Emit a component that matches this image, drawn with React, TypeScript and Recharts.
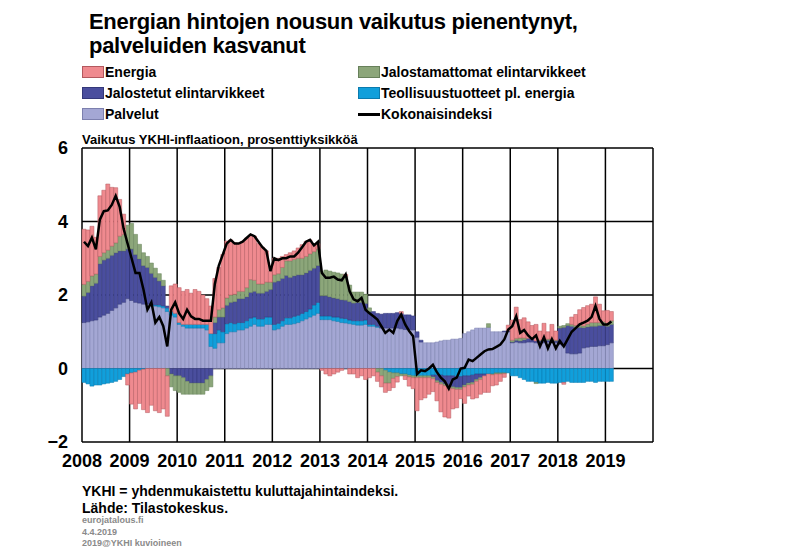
import React from 'react';
import {
  ComposedChart,
  Bar,
  Line,
  XAxis,
  YAxis,
  CartesianGrid,
} from 'recharts';

// monthly contributions, Jan 2008 - Feb 2019 (percentage points)
const palvelut = [
  1.25, 1.27, 1.3, 1.32, 1.4, 1.45, 1.5, 1.58, 1.65, 1.75, 1.8, 1.9,
  1.85, 1.8, 1.78, 1.75, 1.75, 1.72, 1.7, 1.68, 1.65, 1.55, 1.45, 1.4,
  1.2, 1.15, 1.1, 1.1, 1.1, 1.1, 1.1, 1.05, 0.6, 0.55, 0.7, 0.7,
  0.95, 1.0, 1.0, 1.05, 1.05, 1.1, 1.15, 1.2, 1.15, 1.15, 1.2, 1.2,
  1.05, 1.08, 1.15, 1.2, 1.2, 1.22, 1.25, 1.3, 1.35, 1.4, 1.45, 1.5,
  1.33, 1.33, 1.33, 1.3, 1.28, 1.25, 1.24, 1.22, 1.2, 1.18, 1.18, 1.2,
  1.15, 1.15, 1.12, 1.1, 1.1, 1.1, 1.1, 1.1, 1.08, 1.06, 1.06, 1.05,
  0.85, 0.72, 0.7, 0.7, 0.7, 0.72, 0.75, 0.77, 0.77, 0.8, 0.8, 0.82,
  0.95, 1.0, 1.05, 1.1, 1.1, 1.1, 1.12, 1.0, 1.0, 1.0, 1.0, 1.0,
  0.7, 0.72, 0.7, 0.7, 0.72, 0.72, 0.7, 0.7, 0.7, 0.72, 0.7, 0.7,
  0.65, 0.62, 0.42, 0.4, 0.4, 0.42, 0.56, 0.58, 0.6, 0.6, 0.62, 0.62,
  0.65, 0.7,
];

const teollisuus = [
  -0.38, -0.42, -0.48, -0.45, -0.45, -0.42, -0.4, -0.38, -0.35, -0.3, -0.22, -0.15,
  -0.12, -0.1, -0.05, -0.02, 0.0, 0.02, 0.03, 0.05, 0.05, 0.1, 0.1, 0.1,
  0.05, 0.05, 0.1, 0.1, 0.1, 0.1, 0.1, 0.15, 0.35, 0.4, 0.35, 0.3,
  0.27, 0.25, 0.22, 0.2, 0.2, 0.2, 0.22, 0.2, 0.2, 0.2, 0.2, 0.2,
  0.15, 0.15, 0.15, 0.18, 0.18, 0.2, 0.2, 0.2, 0.2, 0.22, 0.28, 0.3,
  0.1, 0.1, 0.1, 0.1, 0.12, 0.12, 0.12, 0.1, 0.1, 0.12, 0.12, 0.12,
  0.05, 0.05, 0.03, 0.0, -0.05, -0.1, -0.12, -0.12, -0.15, -0.15, -0.18, -0.2,
  -0.2, -0.2, -0.2, -0.2, -0.18, -0.18, -0.18, -0.2, -0.2, -0.2, -0.22, -0.22,
  -0.2, -0.2, -0.18, -0.15, -0.15, -0.15, -0.15, -0.15, -0.12, -0.12, -0.12, -0.12,
  -0.2, -0.2, -0.25, -0.3, -0.35, -0.35, -0.38, -0.4, -0.4, -0.38, -0.4, -0.4,
  -0.38, -0.38, -0.35, -0.38, -0.38, -0.38, -0.38, -0.35, -0.35, -0.38, -0.35, -0.35,
  -0.35, -0.35,
];

const jalostetut = [
  0.72, 0.8, 0.95, 1.0, 1.45, 1.5, 1.5, 1.5, 1.5, 1.45, 1.4, 1.35,
  1.4, 1.3, 1.2, 1.05, 1.0, 0.85, 0.75, 0.65, 0.55, 0.05, -0.15, -0.2,
  -0.2, -0.25, -0.35, -0.4, -0.4, -0.4, -0.4, -0.3, -0.2, 0.3, 0.35, 0.4,
  0.5, 0.55, 0.6, 0.65, 0.65, 0.65, 0.7, 0.7, 0.7, 0.7, 0.7, 0.75,
  1.15, 1.15, 1.15, 1.15, 1.1, 1.1, 1.1, 1.05, 1.05, 1.05, 1.0, 1.0,
  0.55, 0.55, 0.52, 0.52, 0.5, 0.5, 0.5, 0.5, 0.48, 0.5, 0.5, 0.45,
  0.35, 0.35, 0.35, 0.38, 0.4, 0.4, 0.4, 0.42, 0.42, 0.4, 0.4, 0.38,
  0.15, 0.05, 0.0, 0.0, -0.05, -0.15, -0.2, -0.22, -0.25, -0.3, -0.3, -0.3,
  -0.25, -0.2, -0.2, -0.15, -0.1, -0.05, 0.0, 0.0, 0.0, 0.0, 0.02, 0.03,
  0.02, 0.05, 0.05, 0.08, 0.1, 0.1, 0.05, 0.05, 0.05, 0.05, 0.05, 0.05,
  0.45, 0.5, 0.75, 0.75, 0.72, 0.7, 0.55, 0.55, 0.55, 0.55, 0.55, 0.55,
  0.5, 0.5,
];

const jalostamattomat = [
  0.32, 0.3, 0.27, 0.25, 0.2, 0.2, 0.22, 0.25, 0.27, 0.4, 0.45, 0.65,
  0.7, 0.55, 0.4, 0.35, 0.3, 0.28, 0.25, 0.2, 0.15, -0.2, -0.35, -0.4,
  -0.45, -0.45, -0.35, -0.3, -0.3, -0.3, -0.3, -0.3, -0.3, 0.15, 0.2, 0.25,
  0.2, 0.2, 0.2, 0.2, 0.2, 0.25, 0.35, 0.3, 0.25, 0.25, 0.25, 0.2,
  0.2, 0.2, 0.3, 0.4, 0.45, 0.45, 0.45, 0.45, 0.45, 0.45, 0.45, 0.45,
  0.65, 0.7, 0.7, 0.7, 0.7, 0.7, 0.65, 0.45, 0.3, 0.28, 0.28, 0.25,
  0.1, 0.0, -0.1, -0.2, -0.35, -0.3, -0.15, -0.1, -0.05, -0.05, -0.05, -0.05,
  -0.05, -0.05, -0.05, -0.05, -0.05, -0.05, -0.05, -0.05, -0.05, -0.05, -0.05, -0.05,
  -0.05, -0.05, -0.05, -0.05, -0.05, 0.0, 0.1, -0.02, -0.03, -0.03, -0.02, 0.0,
  0.05, 0.05, 0.08, 0.05, 0.0, 0.0, -0.03, 0.02, 0.03, 0.03, 0.05, 0.02,
  0.05, 0.05, 0.05, 0.05, 0.05, 0.08, 0.05, 0.08, 0.1, 0.1, 0.08, 0.1,
  0.08, 0.1,
];

const energia = [
  1.5, 1.4, 1.35, 1.0, 1.65, 1.7, 1.8, 1.6, 1.5, 1.0, 0.55, -0.3,
  -0.85, -1.0, -0.9, -1.1, -1.2, -1.0, -1.15, -1.2, -1.1, -1.1, 0.7, 0.8,
  0.95, 0.9, 0.95, 0.85, 0.95, 0.9, 0.8, 0.7, 0.75, 1.05, 1.15, 1.45,
  1.55, 1.5, 1.4, 1.3, 1.35, 1.35, 1.2, 1.2, 1.1, 1.0, 0.85, 0.3,
  0.45, 0.42, 0.3, 0.17, 0.22, 0.23, 0.28, 0.37, 0.41, 0.38, 0.19, 0.15,
  -0.05, -0.15, -0.2, -0.15, -0.1, -0.05, 0.05, -0.15, -0.15, -0.25, -0.2, -0.3,
  -0.25, -0.2, -0.25, -0.3, -0.25, -0.2, -0.25, -0.15, 0.05, -0.1, -0.25, -0.3,
  -0.9, -0.6, -0.55, -0.45, -0.35, -0.5, -0.75, -0.85, -0.85, -0.55, -0.5, -0.25,
  -0.45, -0.3, -0.4, -0.45, -0.4, -0.45, -0.5, -0.3, -0.3, -0.2, -0.1, 0.15,
  0.55, 0.85, 0.5, 0.55, 0.45, 0.35, 0.45, 0.25, 0.45, 0.2, 0.4, 0.25,
  0.0, -0.05, 0.0, 0.2, 0.3, 0.4, 0.5, 0.5, 0.5, 0.7, 0.5, 0.3,
  0.35, 0.25,
];

const kokonaisindeksi = [
  3.45, 3.33, 3.56, 3.24, 4.05, 4.28, 4.3, 4.45, 4.7, 4.4, 3.8, 3.4,
  3.0, 2.6, 2.6, 2.15, 1.6, 1.8, 1.25, 1.4, 1.15, 0.6, 1.6, 1.8,
  1.5, 1.35, 1.6, 1.42, 1.35, 1.35, 1.3, 1.3, 1.3, 2.3, 2.8, 3.1,
  3.4, 3.5, 3.4, 3.4, 3.45, 3.55, 3.65, 3.6, 3.45, 3.3, 3.2, 2.65,
  3.0, 2.95, 3.0, 3.0, 3.05, 3.05, 3.15, 3.3, 3.45, 3.5, 3.35, 3.45,
  2.6, 2.47, 2.47, 2.5, 2.42, 2.4, 2.56, 2.1, 1.88, 1.83, 1.92, 1.6,
  1.5, 1.42, 1.33, 1.15, 0.97, 1.06, 0.97, 1.29, 1.47, 1.2, 1.02, 0.88,
  -0.15, -0.05, -0.07, 0.0, 0.1, -0.1, -0.25, -0.35, -0.55, -0.3, -0.25, 0.0,
  0.02, 0.24, 0.2, 0.29, 0.38, 0.47, 0.52, 0.53, 0.59, 0.65, 0.79, 1.06,
  1.15, 1.42, 0.97, 1.05, 0.9, 0.8, 0.9, 0.6, 0.85, 0.55, 0.8, 0.55,
  0.75, 0.6, 0.8, 1.0, 1.1, 1.2, 1.25, 1.3, 1.4, 1.7, 1.35, 1.2,
  1.2, 1.28,
];

const years = ['2008', '2009', '2010', '2011', '2012', '2013', '2014', '2015', '2016', '2017', '2018', '2019'];
const yTicks = [-2, 0, 2, 4, 6];

const series = [
  { key: 'palvelut', name: 'Palvelut', fill: '#A4A7D4', stroke: '#7D80AE' },
  { key: 'teollisuus', name: 'Teollisuustuotteet pl. energia', fill: '#119FDB', stroke: '#0B7BAE' },
  { key: 'jalostetut', name: 'Jalostetut elintarvikkeet', fill: '#4A4E9E', stroke: '#34387A' },
  { key: 'jalostamattomat', name: 'Jalostamattomat elintarvikkeet', fill: '#8CA67A', stroke: '#67805A' },
  { key: 'energia', name: 'Energia', fill: '#EF8A8F', stroke: '#B3585E' },
];

const data = palvelut.map((_, i) => ({
  x: i + 0.5,
  palvelut: palvelut[i],
  teollisuus: teollisuus[i],
  jalostetut: jalostetut[i],
  jalostamattomat: jalostamattomat[i],
  energia: energia[i],
  kokonaisindeksi: kokonaisindeksi[i],
}));

const font = '"Liberation Sans", Arial, sans-serif';
const xTicks = Array.from({ length: 13 }, (_, i) => i * 12);

const Swatch = ({ fill, stroke }: { fill: string; stroke: string }) => (
  <span style={{ display: 'inline-block', width: 20, height: 10, background: fill, border: `1px solid ${stroke}` }} />
);

const legendCol1 = ['energia', 'jalostetut', 'palvelut'];
const legendCol2 = ['jalostamattomat', 'teollisuus'];

const LegendRow = ({ k, left, top }: { k: string; left: number; top: number }) => {
  const s = series.find((d) => d.key === k)!;
  return (
    <div style={{ position: 'absolute', left, top, height: 20, display: 'flex', alignItems: 'center', fontSize: 14, fontWeight: 'bold' }}>
      <Swatch fill={s.fill} stroke={s.stroke} />
      <span style={{ marginLeft: 1 }}>{s.name}</span>
    </div>
  );
};

export default function App() {
  return (
    <div style={{ position: 'absolute', left: 0, top: 0, width: 800, height: 555, background: '#fff', fontFamily: font, color: '#000' }}>
      <div style={{ position: 'absolute', left: 0, top: 0 }}>
        <ComposedChart
          width={800}
          height={555}
          data={data}
          stackOffset="sign"
          barCategoryGap={0}
          barGap={0}
          margin={{ top: 148, right: 147, bottom: 83, left: 52 }}
        >
          <CartesianGrid stroke="#000" strokeWidth={1.5} />
          <XAxis
            dataKey="x"
            type="number"
            domain={[0, 144]}
            ticks={xTicks}
            height={30}
            axisLine={false}
            tickLine={false}
            tickSize={0}
            tickMargin={12}
            interval={0}
            tickFormatter={(v: number) => years[v / 12] ?? ''}
            tick={{ fill: '#000', fontSize: 18, fontWeight: 'bold', fontFamily: font }}
          />
          <YAxis
            type="number"
            domain={[-2, 6]}
            ticks={yTicks}
            width={30}
            axisLine={false}
            tickLine={false}
            tickSize={0}
            tickMargin={14}
            interval={0}
            tickFormatter={(v: number) => (v < 0 ? '\u2212' + Math.abs(v) : String(v))}
            tick={{ fill: '#000', fontSize: 18, fontWeight: 'bold', fontFamily: font }}
          />
          {series.map((s) => (
            <Bar
              key={s.key}
              dataKey={s.key}
              stackId="a"
              fill={s.fill}
              stroke={s.stroke}
              strokeWidth={0.5}
              isAnimationActive={false}
            />
          ))}
          <Line
            dataKey="kokonaisindeksi"
            type="linear"
            stroke="#000"
            strokeWidth={2.5}
            dot={false}
            isAnimationActive={false}
          />
        </ComposedChart>
      </div>

      <div style={{ position: 'absolute', left: 89, top: 10, fontSize: 22, fontWeight: 'bold', lineHeight: '24px', letterSpacing: -0.3 }}>
        Energian hintojen nousun vaikutus pienentynyt,
        <br />
        palveluiden kasvanut
      </div>

      {legendCol1.map((k, i) => (
        <LegendRow key={k} k={k} left={82} top={62 + i * 21} />
      ))}
      {legendCol2.map((k, i) => (
        <LegendRow key={k} k={k} left={358} top={62 + i * 21} />
      ))}
      <div style={{ position: 'absolute', left: 358, top: 104, height: 20, display: 'flex', alignItems: 'center', fontSize: 14, fontWeight: 'bold' }}>
        <span style={{ display: 'inline-block', width: 22, height: 3, background: '#000' }} />
        <span style={{ marginLeft: 1 }}>Kokonaisindeksi</span>
      </div>

      <div style={{ position: 'absolute', left: 82, top: 132, fontSize: 13, fontWeight: 'bold', lineHeight: '16px' }}>
        Vaikutus YKHI-inflaatioon, prosenttiyksikköä
      </div>

      <div style={{ position: 'absolute', left: 82, top: 483, fontSize: 14, fontWeight: 'bold', lineHeight: '16px' }}>
        YKHI = yhdenmukaistettu kuluttajahintaindeksi.
      </div>
      <div style={{ position: 'absolute', left: 82, top: 500, fontSize: 14, fontWeight: 'bold', lineHeight: '16px' }}>
        Lähde: Tilastokeskus.
      </div>
      <div style={{ position: 'absolute', left: 82, top: 515, fontSize: 9, fontWeight: 'bold', lineHeight: '11.5px', color: '#8a8a8a' }}>
        eurojatalous.fi
        <br />
        4.4.2019
        <br />
        2019@YKHI kuvioineen
      </div>
    </div>
  );
}
